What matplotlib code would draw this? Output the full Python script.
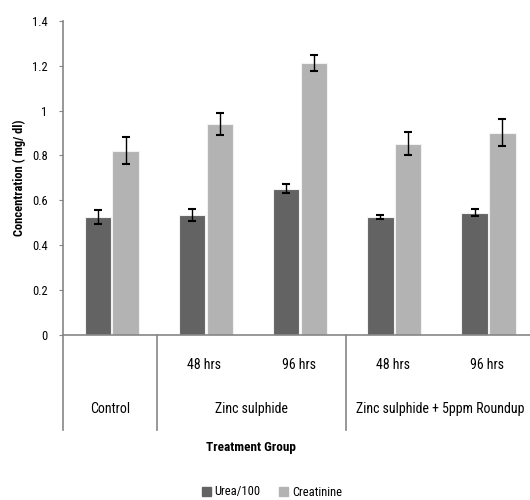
import matplotlib.pyplot as plt
from matplotlib.patches import Patch
from matplotlib import font_manager

# data
groups = ['Control', 'Zinc sulphide', 'Zinc sulphide + 5ppm Roundup']
subs = ['', '48 hrs', '96 hrs', '48 hrs', '96 hrs']
urea = [0.525, 0.535, 0.652, 0.525, 0.544]
urea_err = [0.030, 0.027, 0.020, 0.010, 0.016]
creat = [0.822, 0.940, 1.213, 0.853, 0.902]
creat_err = [0.060, 0.048, 0.036, 0.050, 0.060]

names = set(f.name for f in font_manager.fontManager.ttflist)
fam = 'DejaVu Sans'
for cand in ['Liberation Sans Narrow', 'Roboto Condensed', 'Open Sans Condensed']:
    if cand in names:
        fam = cand
        break
plt.rcParams['font.family'] = [fam, 'DejaVu Sans']
plt.rcParams['font.stretch'] = 'condensed'

fig = plt.figure(figsize=(5.3, 5.0), dpi=100)
ax = fig.add_axes([63 / 530, 165.3 / 500, 471 / 530, 313.7 / 500])

x = list(range(len(urea)))
w = 0.28
ax.bar([i - 0.13 for i in x], urea, w, color='#636363', edgecolor='#f2f2f2', linewidth=0.8,
       yerr=urea_err, error_kw=dict(ecolor='black', capsize=3, elinewidth=1, capthick=1.5))
ax.bar([i + 0.165 for i in x], creat, w, color='#b3b3b3', edgecolor='#f2f2f2', linewidth=0.8,
       yerr=creat_err, error_kw=dict(ecolor='black', capsize=3, elinewidth=1, capthick=1.5))

ax.set_xlim(-0.5, 4.5)
ax.set_ylim(0, 1.4)
ax.set_yticks([0, 0.2, 0.4, 0.6, 0.8, 1.0, 1.2, 1.4])
ax.set_yticklabels(['0', '0.2', '0.4', '0.6', '0.8', '1', '1.2', '1.4'], fontsize=9)
ax.tick_params(axis='y', length=3, color='#868686', pad=8)
ax.set_xticks([])
for s in ['top', 'right']:
    ax.spines[s].set_visible(False)
for s in ['left', 'bottom']:
    ax.spines[s].set_color('#868686')
    ax.spines[s].set_linewidth(1.2)

ax.set_ylabel('Concentration ( mg/ dl)', fontsize=9, fontweight='bold', labelpad=4)

tr = ax.get_xaxis_transform()
for i, s in enumerate(subs):
    ax.text(i, -0.097, s, transform=tr, ha='center', va='center', fontsize=10)
grp_pos = [0, 1.5, 3.5]
for g, p in zip(groups, grp_pos):
    ax.text(p, -0.237, g, transform=tr, ha='center', va='center', fontsize=10)
for b in [-0.5, 0.5, 2.5]:
    ax.plot([b, b], [0, -0.304], transform=tr, color='#868686', lw=1.2, clip_on=False)

ax.text(1.5, -0.358, 'Treatment Group', transform=tr, ha='center', va='center',
        fontsize=9.5, fontweight='bold')

handles = [Patch(color='#636363', label='Urea/100'), Patch(color='#b3b3b3', label='Creatinine')]
fig.legend(handles=handles, loc='center', bbox_to_anchor=(272 / 530, 1 - 492 / 500), ncol=2,
           frameon=False, fontsize=9, handlelength=0.7, handleheight=0.7,
           handletextpad=0.3, columnspacing=1.5)

fig.savefig('out.png', dpi=100)
